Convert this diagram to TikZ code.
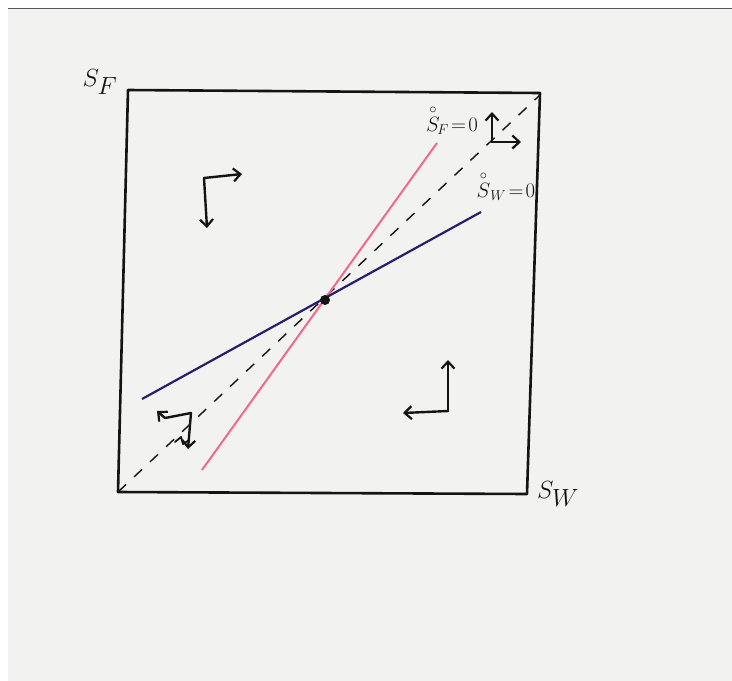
\documentclass[tikz,border=0pt]{standalone}
\usepackage{amsmath}
\usetikzlibrary{arrows.meta}
\definecolor{paper}{RGB}{242,242,240}
\definecolor{pinkline}{RGB}{240,105,140}
\definecolor{navyline}{RGB}{40,30,110}
\definecolor{ink}{RGB}{20,20,20}
\tikzset{
  frame/.style={draw=ink,line width=2.6pt,line join=round},
  phase/.style={draw=ink,line width=2.4pt,line cap=round,line join=round,-{Straight Barb[length=7pt,width=13pt,line width=2.2pt]}},
  lbl/.style={inner sep=0pt,text=ink},
}
\begin{document}
\begin{tikzpicture}[x=1pt,y=-1pt]
\useasboundingbox (0,0) rectangle (732,681);
\fill[white] (0,0) rectangle (732,681);
\fill[paper] (8,9) rectangle (732,681);
\draw[gray!70!black,line width=1.2pt] (8,8.5) -- (732,8.5);
% square corners
\coordinate (tl) at (128,90);
\coordinate (tr) at (540,93);
\coordinate (br) at (527,494);
\coordinate (bl) at (118,492);
\draw[frame] (tl) -- (tr) -- (br) -- (bl) -- cycle;
% diagonal
\coordinate (dend) at (540,95);
\draw[ink,line width=1.4pt,dash pattern=on 11pt off 11pt] (bl) -- (dend);
% nullclines
\coordinate (p1) at (202,470);
\coordinate (p2) at (437,143);
\coordinate (b1) at (142,399);
\coordinate (b2) at (481,212);
\draw[pinkline,line width=2pt] (p1) -- (p2);
\draw[navyline,line width=2.2pt] (b1) -- (b2);
\node[circle,fill=ink,inner sep=0pt,minimum size=10pt] (eq) at (325,300) {};
% labels
\node[lbl,font=\fontsize{34}{38}\selectfont] (sf) at (100,82) {$S_{F}$};
\node[lbl,font=\fontsize{34}{38}\selectfont] (sw) at (558,494) {$S_{W}$};
\node[lbl,font=\fontsize{21}{24}\selectfont] (sfdot) at (452,120) {$\overset{\circ}{S}_{\!F}\!=\!0$};
\node[lbl,font=\fontsize{21}{24}\selectfont] (swdot) at (506,186) {$\overset{\circ}{S}_{W}\!=\!0$};
% phase arrows
\coordinate (c1) at (204,178);
\coordinate (c1r) at (242,174);
\coordinate (c1d) at (207,228);
\draw[phase] (c1) -- (c1r);
\draw[phase] (c1) -- (c1d);
\coordinate (c2) at (448,411);
\coordinate (c2u) at (448,360);
\coordinate (c2l) at (403,413);
\draw[phase] (c2) -- (c2u);
\draw[phase] (c2) -- (c2l);
\coordinate (c3) at (191,413);
\coordinate (c3l) at (157,411);
\coordinate (c3d) at (188,449);
\draw[phase] (c3) -- (165,418) -- (c3l);
\draw[phase] (c3) -- (c3d);
\draw[ink,line width=1.8pt,line cap=round,line join=round] (175,442) -- (181,437) -- (183,444) -- (189,440);
\coordinate (c4) at (492,142);
\coordinate (c4u) at (492,112);
\coordinate (c4r) at (521,142);
\draw[phase] (c4) -- (c4u);
\draw[phase] (c4) -- (c4r);
\end{tikzpicture}
\end{document}
